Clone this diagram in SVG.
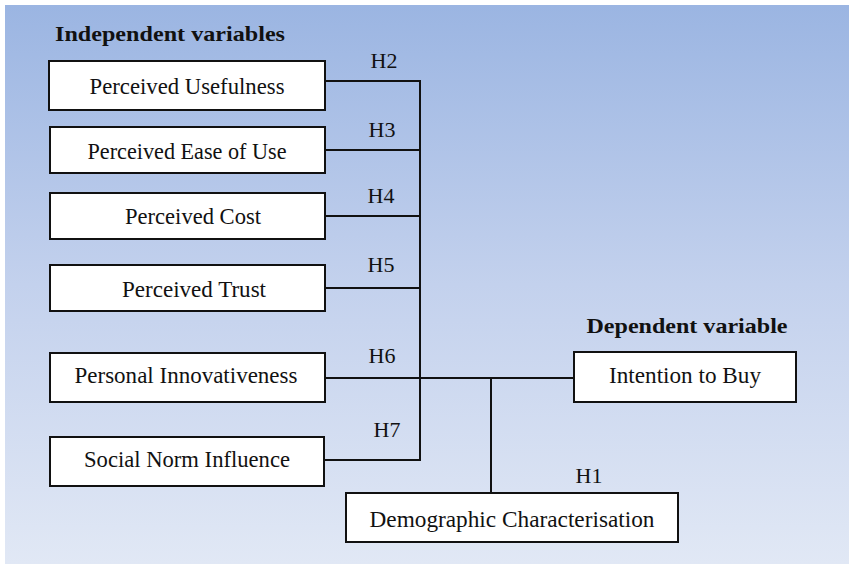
<svg xmlns="http://www.w3.org/2000/svg" width="849" height="565" viewBox="0 0 849 565">
<defs>
<linearGradient id="bg" x1="0" y1="0" x2="0" y2="1">
<stop offset="0" stop-color="#9bb5e2"/>
<stop offset="0.5" stop-color="#c3d1ed"/>
<stop offset="1" stop-color="#e1e8f5"/>
</linearGradient>
<style>
.box{fill:#ffffff;stroke:#111111;stroke-width:2}
.t{font-family:"Liberation Serif","Times New Roman",serif;font-size:22.5px;fill:#111111;text-anchor:middle}
.h{font-family:"Liberation Serif","Times New Roman",serif;font-size:22px;fill:#111111;text-anchor:middle}
.hd{font-family:"Liberation Serif","Times New Roman",serif;font-size:22px;font-weight:bold;fill:#111111;text-anchor:middle}
.c{fill:none;stroke:#111111;stroke-width:2}
</style>
</defs>
<rect x="0" y="0" width="849" height="565" fill="#ffffff"/>
<rect x="5" y="5" width="844" height="559" fill="url(#bg)"/>
<text class="hd" x="170" y="41" textLength="230" lengthAdjust="spacingAndGlyphs">Independent variables</text>
<text class="hd" x="687" y="333" textLength="201" lengthAdjust="spacingAndGlyphs">Dependent variable</text>
<g id="connectors">
<path class="c" d="M325 81H420V460H325"/>
<path class="c" d="M325 150H420"/>
<path class="c" d="M325 216H420"/>
<path class="c" d="M325 288H420"/>
<path class="c" d="M325 378H574"/>
<path class="c" d="M491 378V493"/>
<text class="h" x="384" y="68">H2</text>
<text class="h" x="382" y="137">H3</text>
<text class="h" x="381" y="203">H4</text>
<text class="h" x="381" y="272">H5</text>
<text class="h" x="382" y="363">H6</text>
<text class="h" x="387" y="437">H7</text>
<text class="h" x="589" y="483">H1</text>
</g>
<g id="n1"><rect class="box" x="49" y="61" width="276" height="49"/><text class="t" x="187" y="94" textLength="195" lengthAdjust="spacingAndGlyphs">Perceived Usefulness</text></g>
<g id="n2"><rect class="box" x="50" y="127" width="275" height="46"/><text class="t" x="187" y="159" textLength="199" lengthAdjust="spacingAndGlyphs">Perceived Ease of Use</text></g>
<g id="n3"><rect class="box" x="50" y="193" width="275" height="46"/><text class="t" x="193" y="224" textLength="136" lengthAdjust="spacingAndGlyphs">Perceived Cost</text></g>
<g id="n4"><rect class="box" x="50" y="265" width="275" height="46"/><text class="t" x="194" y="297" textLength="144" lengthAdjust="spacingAndGlyphs">Perceived Trust</text></g>
<g id="n5"><rect class="box" x="50" y="353" width="275" height="49"/><text class="t" x="186" y="383" textLength="223" lengthAdjust="spacingAndGlyphs">Personal Innovativeness</text></g>
<g id="n6"><rect class="box" x="50" y="437" width="274" height="49"/><text class="t" x="187" y="467" textLength="206" lengthAdjust="spacingAndGlyphs">Social Norm Influence</text></g>
<g id="n7"><rect class="box" x="574" y="352" width="222" height="50"/><text class="t" x="685" y="383" textLength="152" lengthAdjust="spacingAndGlyphs">Intention to Buy</text></g>
<g id="n8"><rect class="box" x="346" y="493" width="332" height="49"/><text class="t" x="512" y="527" textLength="285" lengthAdjust="spacingAndGlyphs">Demographic Characterisation</text></g>
</svg>
